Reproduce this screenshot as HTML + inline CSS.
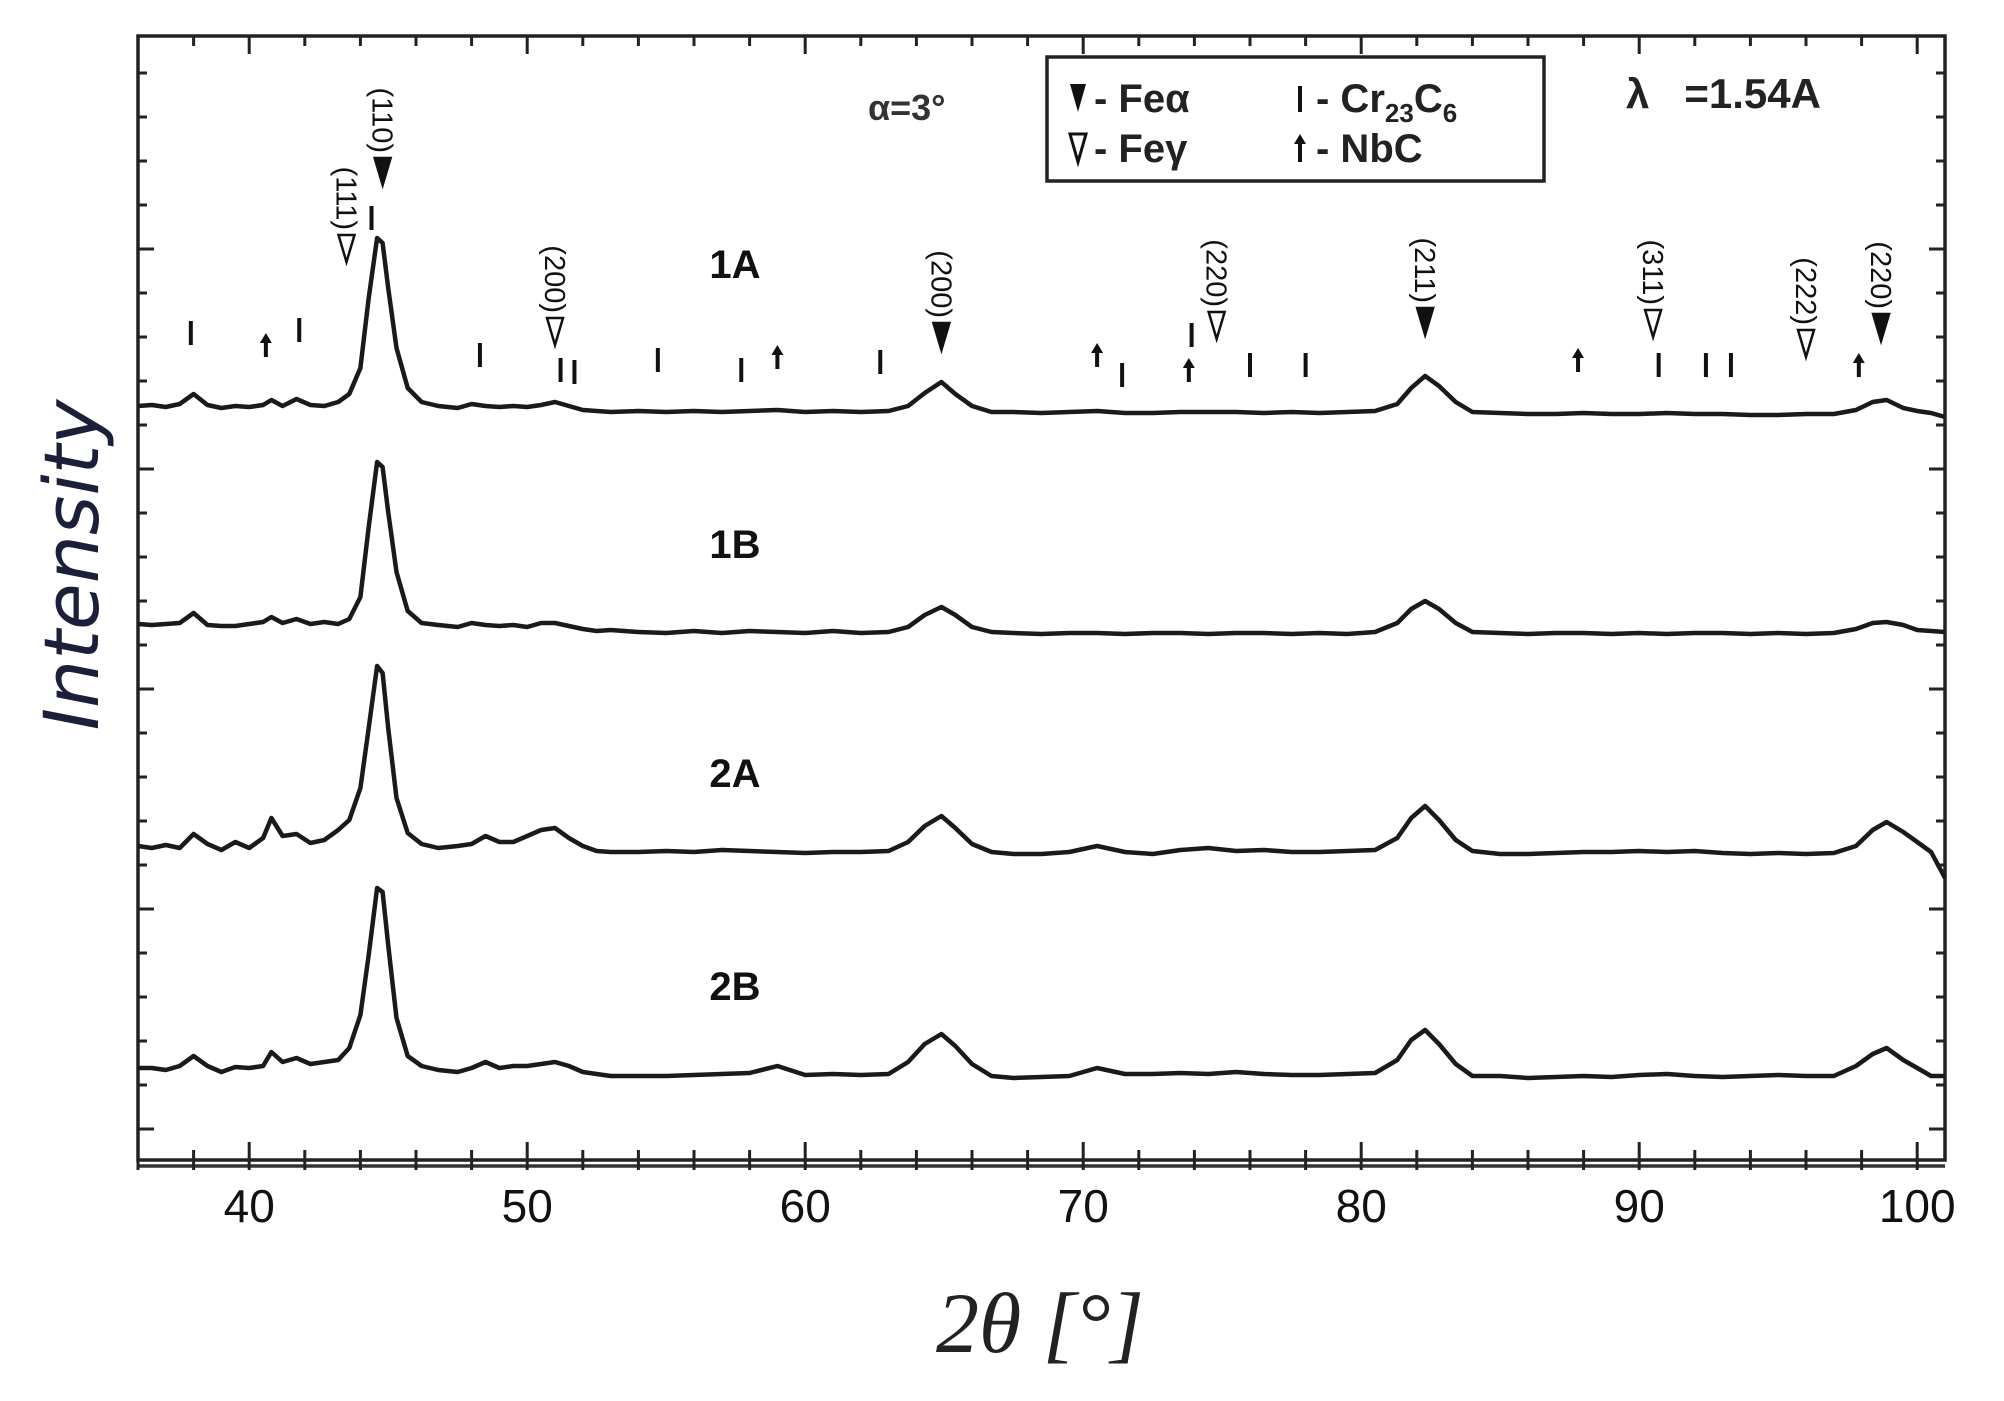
<!DOCTYPE html>
<html><head><meta charset="utf-8">
<style>
html,body{margin:0;padding:0;background:#fff;}
svg{display:block;}
text{font-family:"Liberation Sans",sans-serif;fill:#111;}
</style></head>
<body>
<svg id="chart" width="2004" height="1401" viewBox="0 0 2004 1401" xmlns="http://www.w3.org/2000/svg">
<rect x="0" y="0" width="2004" height="1401" fill="#fff"/>
<g id="frame"></g>
<g id="ticks"></g>
<g id="series"></g>
<g id="markers"></g>
<text x="0" y="0" transform="translate(98,565) rotate(-90)" text-anchor="middle" style="font-family:'DejaVu Sans','Liberation Sans',sans-serif;font-style:italic;font-size:76px;fill:#1b1f3a;">Intensity</text>
<text x="1040" y="1352" text-anchor="middle" style="font-family:'Liberation Serif',serif;font-style:italic;font-size:86px;fill:#222;">2θ [°]</text>
<text x="868" y="120" style="font-size:36px;font-weight:bold;fill:#333;">α=3°</text>
<text x="1626" y="108" style="font-size:42px;font-weight:bold;fill:#222;">λ&#160;&#160;&#160;=1.54A</text>
<g>
<rect x="1047" y="57" width="497" height="124" fill="#fff" stroke="#222" stroke-width="3.5"/>
<g><path d="M1070,84 L1086,84 L1078,112 Z" fill="#111"/><text x="1094" y="112" style="font-size:40px;font-weight:bold;fill:#222;">- Feα</text></g>
<g><path d="M1070,134 L1086,134 L1078,162 Z" fill="#fff" stroke="#111" stroke-width="3"/><text x="1094" y="162" style="font-size:40px;font-weight:bold;fill:#222;">- Feγ</text></g>
<g><line x1="1300" y1="86" x2="1300" y2="112" stroke="#111" stroke-width="4"/><text x="1316" y="112" style="font-size:40px;font-weight:bold;fill:#222;">- Cr<tspan font-size="26" dy="10">23</tspan><tspan dy="-10">C</tspan><tspan font-size="26" dy="10">6</tspan></text></g>
<g><line x1="1300" y1="138" x2="1300" y2="162" stroke="#111" stroke-width="4"/><path d="M1294,144 L1306,144 L1300,134 Z" fill="#111"/><text x="1316" y="162" style="font-size:40px;font-weight:bold;fill:#222;">- NbC</text></g>
</g>
</svg>
<script>
// ---- data ----
const theta = [36,36.5,37,37.5,38,38.5,39,39.5,40,40.5,
40.8,41.2,41.7,42.2,42.7,43.2,43.6,44.0,44.3,44.6,
44.8,45.0,45.3,45.7,46.2,46.8,47.5,48,48.5,49,
49.5,50,50.5,51,51.5,52,52.5,53,54,55,
56,57,58,59,60,61,62,63,63.7,64.3,
64.9,65.4,66,66.7,67.5,68.5,69.5,70.5,71.5,72.5,
73.5,74.5,75.5,76.5,77.5,78.5,79.5,80.5,81.3,81.8,
82.3,82.8,83.4,84,85,86,87,88,89,90,
91,92,93,94,95,96,97,97.8,98.4,98.9,
99.5,100,100.5,101];
const series1A = [2,3,1,4,14,3,0,2,1,3, 8,2,9,3,2,6,14,40,110,170, 165,120,60,20,6,2,0,4,2,1, 2,1,3,6,2,-2,-3,-4,-3,-4, -3,-4,-3,-2,-4,-3,-4,-3,2,15, 26,14,2,-4,-4,-5,-4,-3,-5,-5, -4,-4,-4,-5,-4,-5,-4,-3,4,20, 32,22,6,-4,-5,-6,-6,-5,-6,-6, -5,-6,-6,-7,-7,-6,-6,-2,6,8, 0,-3,-5,-9];
const series1B = [3,2,3,4,14,2,1,1,3,5, 10,4,8,3,5,3,8,30,100,165, 160,115,55,16,4,2,0,4,2,1, 2,0,4,4,1,-2,-4,-3,-5,-6, -4,-6,-4,-5,-6,-4,-6,-5,0,12, 20,12,0,-5,-6,-7,-6,-6,-7,-6, -6,-7,-6,-6,-7,-6,-7,-5,4,18, 26,18,4,-5,-6,-7,-6,-6,-7,-6, -7,-6,-6,-7,-6,-7,-6,-2,4,5, 2,-3,-4,-5];
const series2A = [2,0,3,0,14,4,-2,6,0,10, 30,12,14,5,8,18,28,60,120,182, 175,120,50,15,4,0,2,4,12,6, 6,12,18,20,10,2,-3,-4,-4,-3, -4,-2,-3,-4,-5,-4,-4,-3,6,22, 32,20,4,-4,-6,-6,-4,2,-4,-6, -2,0,-3,-2,-4,-4,-3,-2,10,30, 42,28,8,-3,-6,-6,-5,-4,-4,-3, -4,-3,-5,-6,-5,-6,-5,2,18,26, 16,6,-4,-30];
const series2B = [2,2,0,4,14,4,-2,3,2,4, 18,8,12,6,8,10,22,55,115,182, 178,125,52,14,4,0,-2,2,8,2, 4,4,6,8,4,-2,-4,-6,-6,-6, -5,-4,-3,4,-5,-4,-5,-4,8,26, 36,24,6,-6,-8,-7,-6,2,-4,-4, -3,-4,-2,-4,-5,-5,-4,-3,10,30, 40,26,6,-6,-6,-8,-7,-6,-7,-5, -4,-6,-7,-6,-5,-6,-6,4,16,22, 10,2,-6,-6];
const sampleNames = ["1A","1B","2A","2B"];
const xTickLabels = [40,50,60,70,80,90,100];
const feAlphaPos = [44.8,64.9,82.3,98.7];
const feAlphaLabels = ["(110)","(200)","(211)","(220)"];
const feAlphaTipY = [185,350,335,341];
const feGammaPos = [43.5,51.0,74.8,90.5,96.0];
const feGammaLabels = ["(111)","(200)","(220)","(311)","(222)"];
const feGammaTipY = [262,345,339,337,357];
const crPos = [37.9,41.8,44.4,48.3,51.2,51.7,54.7,57.7,62.7,71.4,73.9,76.0,78.0,90.7,92.4,93.3];
const crY = [333,330,218,355,370,372,360,370,362,375,335,365,365,365,365,365];
const nbcPos = [40.6,59.0,70.5,73.8,87.8,97.9];
const nbcY = [345,357,355,370,360,365];

// ---- layout ----
const L=138,R=1945,T=36,B=1160, X0=36, X1=101;
const baselines=[408,627,848,1070];
const labelY=[278,558,787,1000];
function xs(v){return L+(v-X0)/(X1-X0)*(R-L);}
function ys(v,i){return baselines[i]-v;}
const NS="http://www.w3.org/2000/svg";
function mk(tag,parent,attrs){const e=document.createElementNS(NS,tag);for(const k in attrs)e.setAttribute(k,attrs[k]);parent.appendChild(e);return e;}

const frame=document.getElementById('frame');
const fr=mk('rect',frame,{x:L,y:T,width:R-L,height:B-T,fill:'none',stroke:'#222','stroke-width':3.5});


const bl=mk('line',frame,{x1:L,y1:B+6,x2:R,y2:B+6,stroke:'#333','stroke-width':3.5});



const ticks=document.getElementById('ticks');
for(let v=36;v<=101;v+=2){
  const major=(v%10===0);
  const x=xs(v);
  const t1=mk('line',ticks,{x1:x,y1:B+10,x2:x,y2:B-(major?18:10),stroke:'#222','stroke-width':3});
  
  
  const t2=mk('line',ticks,{x1:x,y1:T,x2:x,y2:T+(major?18:10),stroke:'#222','stroke-width':3});
  
  
}
xTickLabels.forEach(v=>{
  const t=mk('text',ticks,{x:xs(v),y:1222,'text-anchor':'middle','font-size':46,fill:'#222'});
  t.textContent=v;
  
  
});
for(let k=0;;k++){
  const y=T+37+k*44; if(y>B-10)break;
  const major=(k%5===4);
  const a=mk('line',ticks,{x1:L,y1:y,x2:L+(major?16:9),y2:y,stroke:'#222','stroke-width':3});
  
  
  const b=mk('line',ticks,{x1:R,y1:y,x2:R-(major?16:9),y2:y,stroke:'#222','stroke-width':3});
  
  
}

const sg=document.getElementById('series');
[series1A,series1B,series2A,series2B].forEach((s,i)=>{
  let d='';
  s.forEach((v,j)=>{d+=(j?'L':'M')+xs(theta[j]).toFixed(1)+','+ys(v,i).toFixed(1);});
  const p=mk('path',sg,{d:d,fill:'none',stroke:'#1a1a1a','stroke-width':4.5,'stroke-linejoin':'round'});
  
  
  const t=mk('text',sg,{x:735,y:labelY[i],'text-anchor':'middle','font-size':40,'font-weight':'bold',fill:'#333'});
  t.textContent=sampleNames[i];
  
  
});

const mg=document.getElementById('markers');
function tri(x,tip,filled,label,name){
  const g=mk('g',mg,{});
  
  
  mk('path',g,{d:`M${x-8},${tip-27} L${x+8},${tip-27} L${x},${tip} Z`,fill:filled?'#111':'#fff',stroke:'#111','stroke-width':2.5});
  const t=mk('text',g,{x:0,y:0,'font-size':29,fill:'#333',transform:`translate(${x-10},${tip-32}) rotate(90)`,'text-anchor':'end'});
  t.textContent=label;
}
feAlphaPos.forEach((v,i)=>tri(xs(v),feAlphaTipY[i],true,feAlphaLabels[i],'fe-alpha-marker'));
feGammaPos.forEach((v,i)=>tri(xs(v),feGammaTipY[i],false,feGammaLabels[i],'fe-gamma-marker'));
crPos.forEach((v,i)=>{
  const l=mk('line',mg,{x1:xs(v),y1:crY[i]-12,x2:xs(v),y2:crY[i]+12,stroke:'#111','stroke-width':4});
  
  
});
nbcPos.forEach((v,i)=>{
  const g=mk('g',mg,{});
  
  
  const x=xs(v),y=nbcY[i];
  mk('line',g,{x1:x,y1:y-8,x2:x,y2:y+12,stroke:'#111','stroke-width':4});
  mk('path',g,{d:`M${x-6},${y-2} L${x+6},${y-2} L${x},${y-12} Z`,fill:'#111'});
});
</script>
</body></html>
